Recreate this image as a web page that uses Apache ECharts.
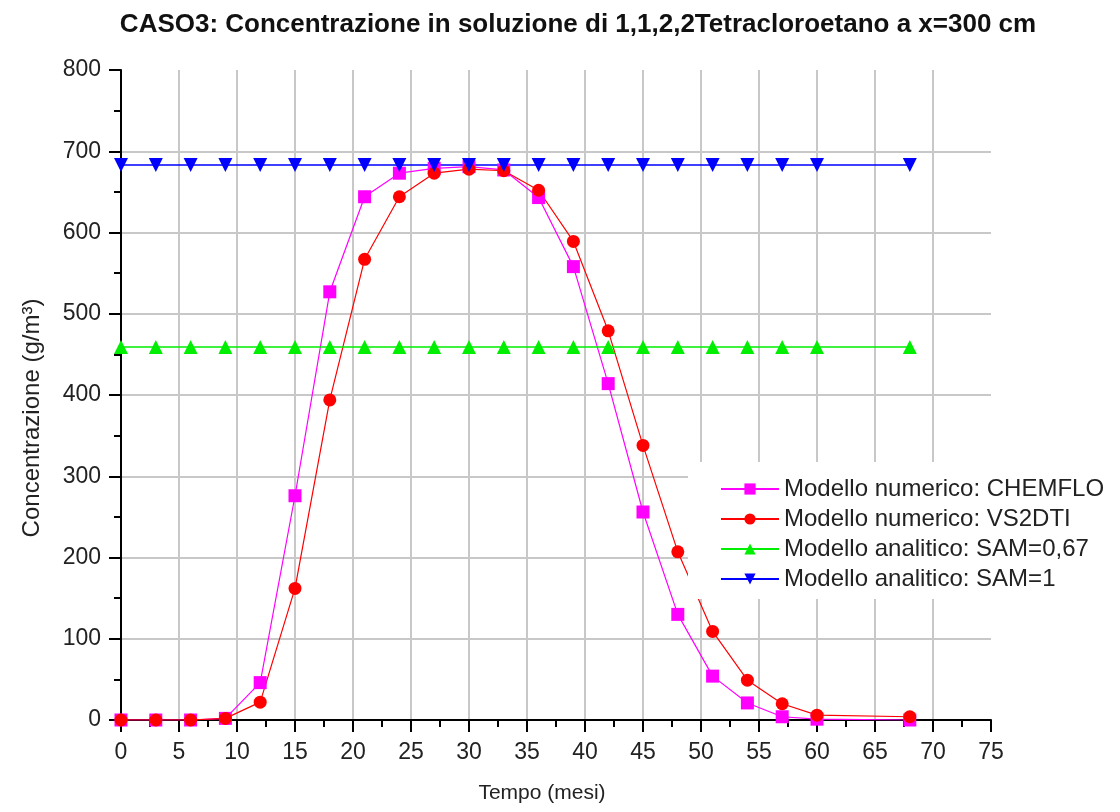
<!DOCTYPE html>
<html>
<head>
<meta charset="utf-8">
<script src="https://cdn.jsdelivr.net/npm/echarts@6/dist/echarts.min.js"></script>
<style>
  html, body { margin: 0; padding: 0; background: #fff; }
  #chart { width: 1120px; height: 812px; }
</style>
</head>
<body>
<div id="chart"></div>
<script>
// tempo (mesi)
var tempo = [0, 3, 6, 9, 12, 15, 18, 21, 24, 27, 30, 33, 36, 39, 42, 45, 48, 51, 54, 57, 60, 68];
// concentrazione (g/m3)
var chemflo = [0, 0, 0, 2, 46, 276, 527, 644, 673, 679, 681, 677, 643, 558, 414, 256, 130, 54, 21, 4, 1, 0];
var vs2dti = [0, 0, 0, 2, 22, 162, 394, 567, 644, 673, 678, 676, 652, 589, 479, 338, 207, 109, 49, 20, 6, 4];
var sam067 = [459, 459, 459, 459, 459, 459, 459, 459, 459, 459, 459, 459, 459, 459, 459, 459, 459, 459, 459, 459, 459, 459];
var sam1 = [683, 683, 683, 683, 683, 683, 683, 683, 683, 683, 683, 683, 683, 683, 683, 683, 683, 683, 683, 683, 683, 683];

var nomi = [
  "Modello numerico: CHEMFLO",
  "Modello numerico: VS2DTI",
  "Modello analitico: SAM=0,67",
  "Modello analitico: SAM=1"
];

function pairs(ys) {
  return tempo.map(function (t, i) { return [t, ys[i]]; });
}

var font = "Liberation Sans, Arial, sans-serif";
var chart = echarts.init(document.getElementById("chart"));

chart.setOption({
  animation: false,
  backgroundColor: "#fff",
  title: {
    text: "CASO3: Concentrazione in soluzione di 1,1,2,2Tetracloroetano a x=300 cm",
    left: 573,
    textAlign: "center",
    top: 7,
    textStyle: {
      fontFamily: font,
      fontSize: 26,
      fontWeight: "bold",
      color: "#111"
    }
  },
  grid: {
    left: 121,
    right: 129,
    top: 70,
    bottom: 92
  },
  legend: {
    orient: "vertical",
    left: 688,
    top: 462,
    padding: [15, 10, 8, 32],
    itemGap: 6,
    itemWidth: 58,
    itemHeight: 14,
    backgroundColor: "#fff",
    data: nomi,
    textStyle: {
      fontFamily: font,
      fontSize: 24,
      color: "#222"
    }
  },
  xAxis: {
    type: "value",
    min: 0,
    max: 75,
    interval: 5,
    name: "Tempo (mesi)",
    nameLocation: "middle",
    nameGap: 63,
    nameTextStyle: { fontFamily: font, fontSize: 21, color: "#222", padding: [0, 28, 0, 0] },
    axisLine: { lineStyle: { color: "#000", width: 2 } },
    axisTick: { length: 12, lineStyle: { color: "#000", width: 2 } },
    minorTick: { show: true, splitNumber: 2, length: 7, lineStyle: { color: "#000", width: 2 } },
    axisLabel: { margin: 21, fontFamily: font, fontSize: 23, color: "#222" },
    splitLine: {
      show: true,
      showMaxLine: false,
      lineStyle: { color: "#c8c8c8", width: 2 }
    }
  },
  yAxis: {
    type: "value",
    min: 0,
    max: 800,
    interval: 100,
    name: "Concentrazione (g/m\u00b3)",
    nameLocation: "middle",
    nameGap: 77,
    nameTextStyle: { fontFamily: font, fontSize: 24, color: "#222", padding: [0, 46, 0, 0] },
    axisLine: { show: true, lineStyle: { color: "#000", width: 2 } },
    axisTick: { show: true, length: 12, lineStyle: { color: "#000", width: 2 } },
    minorTick: { show: true, splitNumber: 2, length: 7, lineStyle: { color: "#000", width: 2 } },
    axisLabel: { margin: 20, fontFamily: font, fontSize: 23, color: "#222" },
    splitLine: {
      show: true,
      showMaxLine: false,
      lineStyle: { color: "#c8c8c8", width: 2 }
    }
  },
  series: [
    {
      name: nomi[0],
      type: "line",
      data: pairs(chemflo),
      symbol: "rect",
      symbolSize: 13,
      itemStyle: { color: "#ff00ff" },
      lineStyle: { color: "#ff00ff", width: 1.2 }
    },
    {
      name: nomi[1],
      type: "line",
      data: pairs(vs2dti),
      symbol: "circle",
      symbolSize: 13,
      itemStyle: { color: "#ff0000" },
      lineStyle: { color: "#ff0000", width: 1.2 }
    },
    {
      name: nomi[2],
      type: "line",
      data: pairs(sam067),
      symbol: "triangle",
      symbolSize: 14,
      itemStyle: { color: "#00ee00" },
      lineStyle: { color: "#00ee00", width: 1.5 }
    },
    {
      name: nomi[3],
      type: "line",
      data: pairs(sam1),
      symbol: "triangle",
      symbolRotate: 180,
      symbolSize: 14,
      itemStyle: { color: "#0000ff" },
      lineStyle: { color: "#0000ff", width: 1.5 }
    }
  ]
});
</script>
</body>
</html>
